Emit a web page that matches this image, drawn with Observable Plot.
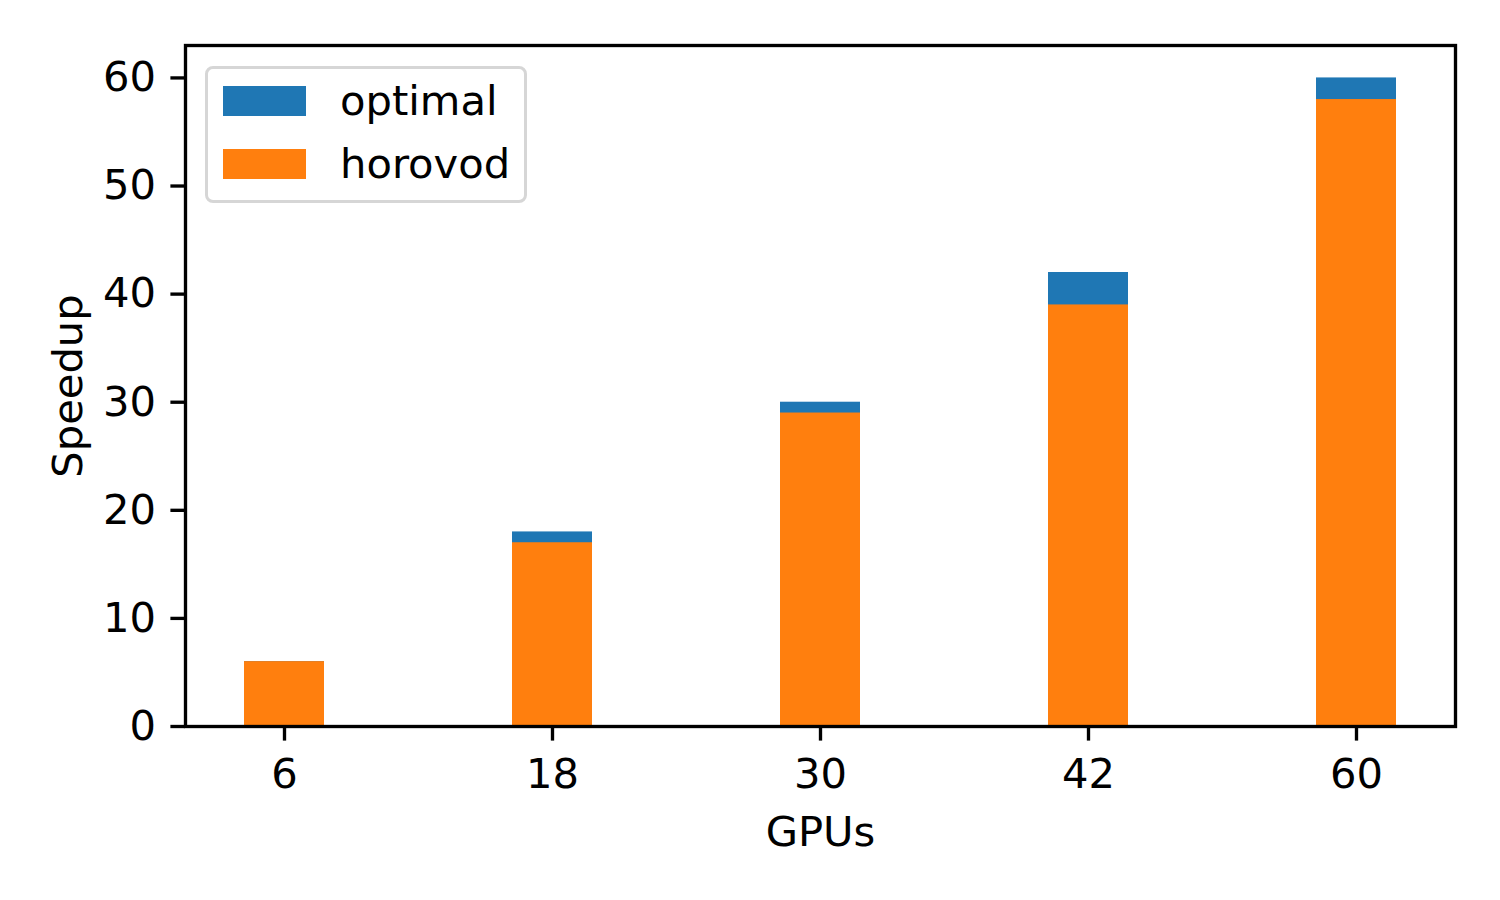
<!DOCTYPE html>
<html>
<head>
<meta charset="utf-8">
<script src="https://cdn.jsdelivr.net/npm/d3@7"></script>
<script src="https://cdn.jsdelivr.net/npm/@observablehq/plot@0.6"></script>
<style>
  html, body { margin: 0; padding: 0; background: #fff; }
  #wrap { position: relative; width: 1500px; height: 900px; font-family: "DejaVu Sans", sans-serif; }
  #legend {
    position: absolute; left: 205px; top: 66px; width: 322px; height: 137px;
    border: 3px solid #d6d6d6; border-radius: 8px; background: rgba(255,255,255,0.8);
    box-sizing: border-box;
  }
  .item { position: absolute; left: 15px; height: 30px; display: flex; align-items: center; }
  .sw { width: 83px; height: 30px; }
  .lab { position: absolute; left: 117px; font-size: 41.67px; line-height: 1; white-space: nowrap; color: #000; }
</style>
</head>
<body>
<div id="wrap"></div>
<script>
const gpus = ["6", "18", "30", "42", "60"];
const optimal = [6, 18, 30, 42, 60];
const horovod = [6, 17, 29, 39, 58];
const yTicks = [0, 10, 20, 30, 40, 50, 60];
const seriesNames = ["optimal", "horovod"];
const seriesColors = ["#1f77b4", "#ff7f0e"];

const optData = gpus.map((g, i) => ({gpus: g, value: optimal[i]}));
const horData = gpus.map((g, i) => ({gpus: g, value: horovod[i]}));

const fs = 41.67;
const lw = 3.33;
const tick = 14.6;

const chart = Plot.plot({
  width: 1500,
  height: 900,
  marginLeft: 185,
  marginRight: 45,
  marginTop: 45,
  marginBottom: 174,
  style: {fontFamily: "DejaVu Sans, sans-serif", background: "#fff"},
  x: {type: "band", domain: gpus, paddingInner: 0.7, paddingOuter: 0.217},
  y: {domain: [0, 63]},
  marks: [
    Plot.barY(optData, {x: "gpus", y: "value", fill: seriesColors[0]}),
    Plot.barY(horData, {x: "gpus", y: "value", fill: seriesColors[1]}),
    Plot.axisX({tickSize: tick, tickPadding: 17, fontSize: fs, strokeWidth: lw, label: null}),
    Plot.axisY({ticks: yTicks, tickSize: tick, tickPadding: 15, fontSize: fs, strokeWidth: lw, label: null, tickFormat: d3.format("d")}),
    Plot.text(["GPUs"], {frameAnchor: "bottom", dy: 106, fontSize: fs, lineAnchor: "middle", textAnchor: "middle"}),
    Plot.text(["Speedup"], {frameAnchor: "left", dx: -117, rotate: -90, fontSize: fs, lineAnchor: "middle", textAnchor: "middle"}),
    Plot.frame({stroke: "black", strokeWidth: lw})
  ]
});

const wrap = document.getElementById("wrap");
wrap.appendChild(chart);

const legend = document.createElement("div");
legend.id = "legend";
const tops = [17, 80];
seriesNames.forEach((name, i) => {
  const item = document.createElement("div");
  item.className = "item";
  item.style.top = tops[i] + "px";
  const sw = document.createElement("div");
  sw.className = "sw";
  sw.style.background = seriesColors[i];
  item.appendChild(sw);
  const lab = document.createElement("div");
  lab.className = "lab";
  lab.textContent = name;
  lab.style.top = "-6px";
  item.appendChild(lab);
  legend.appendChild(item);
});
wrap.appendChild(legend);
</script>
</body>
</html>
